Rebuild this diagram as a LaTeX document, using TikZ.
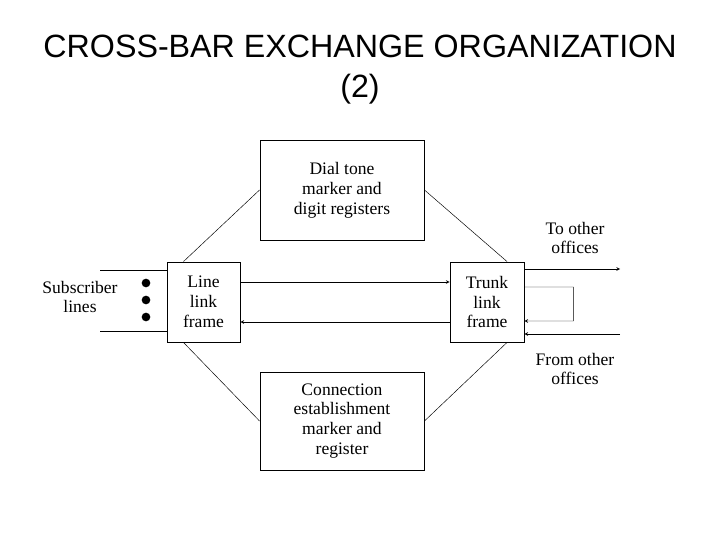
\documentclass[tikz,border=0pt]{standalone}
\usepackage{fontspec}
\setmainfont{Liberation Serif}
\newfontfamily\titlefont{Liberation Sans}
\usetikzlibrary{positioning}
\begin{document}
\begin{tikzpicture}[>=stealth, x=0.03cm, y=-0.03cm,
  blk/.style={draw, thick, align=center, inner sep=0pt, font=\fontsize{15}{17}\selectfont},
  lbl/.style={align=center, font=\fontsize{15}{17}\selectfont}]
\useasboundingbox (0,0) rectangle (720,540);
\node[align=center, font=\titlefont\fontsize{27.5}{34}\selectfont] (title) at (360,70) {CROSS-BAR EXCHANGE ORGANIZATION\\(2)};
\node[blk, minimum width=164*0.03cm, minimum height=100*0.03cm] (dial) at (342,190) {Dial tone\\marker and\\digit registers};
\node[blk, minimum width=164*0.03cm, minimum height=98*0.03cm] (conn) at (342,421) {Connection\\establishment\\marker and\\register};
\node[blk, minimum width=73*0.03cm, minimum height=80*0.03cm] (llf) at (203.5,302) {Line\\link\\frame};
\node[blk, minimum width=74*0.03cm, minimum height=80*0.03cm] (tlf) at (487,302) {Trunk\\link\\frame};
\node[lbl] (sub) at (80,297) {Subscriber\\lines};
\node[lbl] (to) at (575,238) {To other\\offices};
\node[lbl] (from) at (575,369) {From other\\offices};
% diagonals
\draw ([xshift=-0.6cm]llf.north) -- (dial.west);
\draw ([xshift=0.6cm]tlf.north) -- (dial.east);
\draw ([xshift=-0.6cm]llf.south) -- (conn.west);
\draw ([xshift=0.6cm]tlf.south) -- (conn.east);
% subscriber lines
\coordinate (s1) at (100,270);
\coordinate (s2) at (100,331);
\draw (s1) -- (s1 -| llf.west);
\draw (s2) -- (s2 -| llf.west);
\foreach \y in {283,300,317} \fill (146,\y) circle (0.13cm);
% between frames
\draw[->] ([yshift=0.6cm]llf.east) -- ([yshift=0.6cm]tlf.west);
\draw[->] ([yshift=-0.6cm]tlf.west) -- ([yshift=-0.6cm]llf.east);
% trunk outputs
\coordinate (out) at (620,269);
\coordinate (in) at (620,334);
\draw[->] (out -| tlf.east) -- (out);
\draw[->] (in) -- (in -| tlf.east);
\draw[->] ([yshift=0.45cm]tlf.east) -- ++(49,0) -- ++(0,34) -- ([yshift=-0.57cm]tlf.east);
\end{tikzpicture}
\end{document}
